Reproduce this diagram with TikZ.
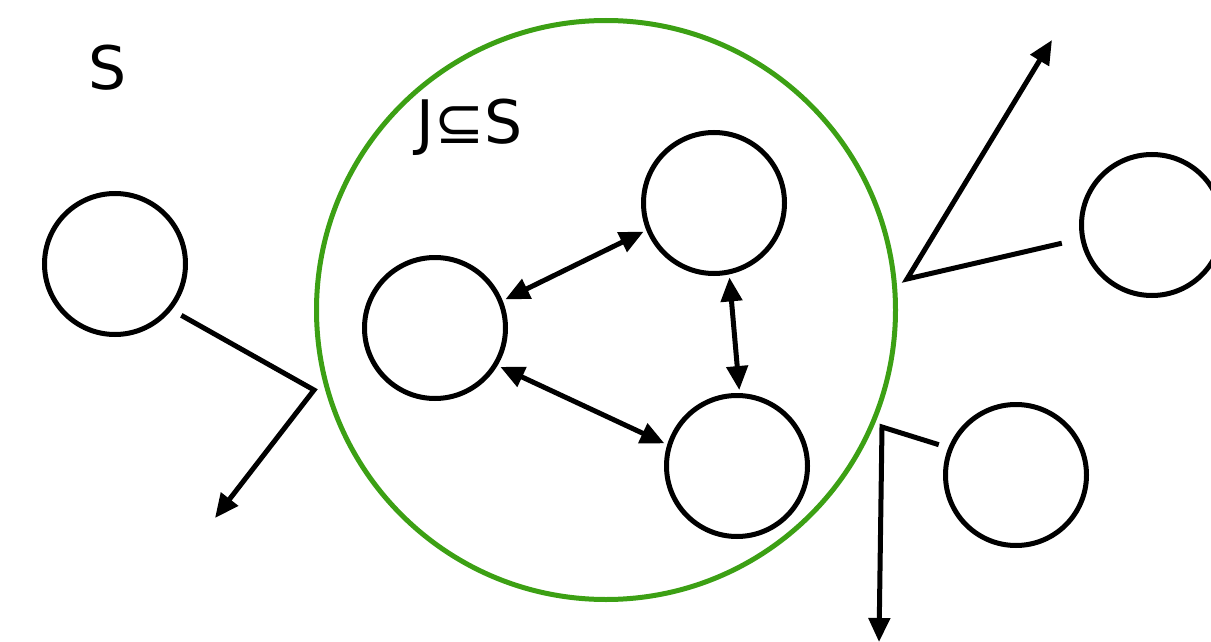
\documentclass[tikz,border=0pt]{standalone}
\usepackage{fontspec}
\setmainfont{DejaVu Sans}
\usepackage{tikz}
\usetikzlibrary{calc,arrows.meta}
\definecolor{setgreen}{RGB}{60,160,20}

\begin{document}
\begin{tikzpicture}[x=1pt,y=-1pt]
\tikzstyle{every node}=[circle, draw, line width=5pt,
                        minimum size=141pt, inner sep=0pt]
\tikzstyle{lbl}=[draw=none, rectangle, minimum size=0pt,
                 font=\fontsize{60}{60}\selectfont, anchor=base west]
\tikzstyle{link}=[line width=5pt, -{Triangle[length=24pt,width=21pt]}]
\tikzstyle{both}=[line width=5pt, {Triangle[length=24pt,width=21pt]}-{Triangle[length=24pt,width=21pt]},
                  shorten <=3pt, shorten >=3pt]
\useasboundingbox (0,0) rectangle (1211,642);
% the subset J
\node[setgreen, minimum size=579pt] (J) at (606,310){};
\node[lbl] at (86,90){S};
\node[lbl] at (414,143){J⊆S};
% members
\node (1) at (115,264){};
\node (2) at (435,328){};
\node (3) at (714,203){};
\node (4) at (737,466){};
\node (5) at (1016,475){};
\node (6) at (1152,225){};
\foreach \i/\a/\j/\b in {2/22/3/-158,3/-78/4/88,2/-31/4/163}{\draw[both] (\i.\a) -- (\j.\b);}
% ties leaving J
\coordinate (k1) at (314,390);
\coordinate (e1) at (215,518);
\coordinate (k5) at (882,427);
\coordinate (e5) at (879,642);
\coordinate (k6) at (907,279);
\coordinate (e6) at (1052,40);
\draw[link, shorten <=11pt] (1.-39) -- (k1) -- (e1);
\draw[link, shorten <=10pt] (5.158) -- (k5) -- (e5);
\draw[link, shorten <=19pt] (6.191) -- (k6) -- (e6);
\end{tikzpicture}
\end{document}
